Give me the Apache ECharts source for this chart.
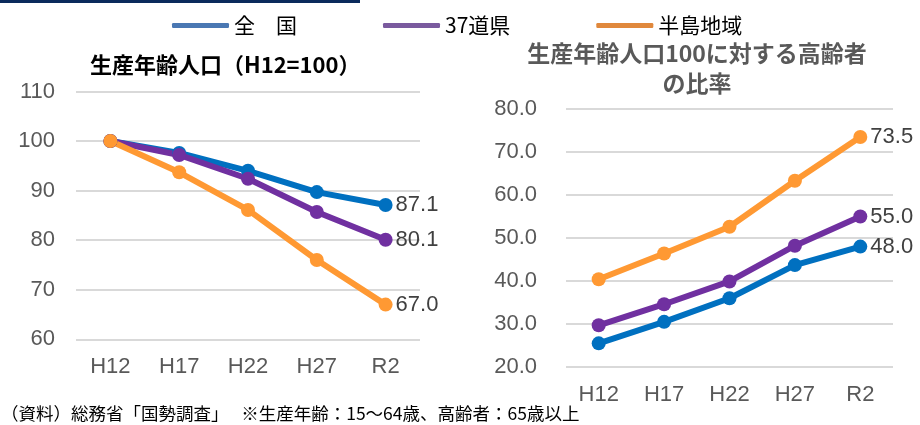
<!DOCTYPE html>
<html><head><meta charset="utf-8">
<script src="https://cdn.jsdelivr.net/npm/echarts@6/dist/echarts.min.js"></script>
<style>html,body{margin:0;padding:0;background:#fff}#c{width:920px;height:425px}</style>
</head><body><div id="c"></div>
<script>
const categories = ['H12', 'H17', 'H22', 'H27', 'R2'];
const seriesNames = ['全　国', '37道県', '半島地域'];
// 生産年齢人口（H12=100）
const workingNational = [100, 97.6, 94.0, 89.7, 87.1];
const working37 = [100, 97.2, 92.4, 85.7, 80.1];
const workingPeninsula = [100, 93.7, 86.1, 76.0, 67.0];
// 生産年齢人口100に対する高齢者の比率
const elderlyNational = [25.5, 30.5, 36.0, 43.7, 48.0];
const elderly37 = [29.7, 34.6, 39.9, 48.2, 55.0];
const elderlyPeninsula = [40.4, 46.4, 52.6, 63.3, 73.5];
const leftTicks = [60, 70, 80, 90, 100, 110];
const rightTicks = [20, 30, 40, 50, 60, 70, 80];
const titleLeft = '生産年齢人口（H12=100）';
const titleRight = ['生産年齢人口100に対する高齢者', 'の比率'];
const footnote = '（資料）総務省「国勢調査」　 ※生産年齢：15～64歳、高齢者：65歳以上';

const lineColors = ['#0070c0', '#7030a0', '#ff9933'];
const legendColors = ['#4a78b3', '#7a5a9e', '#e0883c'];
const numFont = '"Liberation Sans", Arial, sans-serif';
const cjkFont = '"Noto Sans CJK JP", sans-serif';

const chart = echarts.init(document.getElementById('c'));

function mkSeries(name, data, idx, axisIdx) {
  const last = data.length - 1;
  return {
    name: name, type: 'line', data: data,
    xAxisIndex: axisIdx, yAxisIndex: axisIdx,
    symbol: 'circle', symbolSize: 14,
    lineStyle: { width: 6, color: lineColors[idx] },
    itemStyle: { color: lineColors[idx] },
    label: {
      show: true, position: 'right', distance: 3,
      color: '#404040', fontSize: 22, fontFamily: numFont,
      formatter: p => p.dataIndex === last ? p.value.toFixed(1) : ''
    },
    animation: false
  };
}

const axisLabelStyle = { color: '#595959', fontSize: 22, fontFamily: numFont };

chart.setOption({
  animation: false,
  legend: {
    left: 167, top: 10,
    icon: 'roundRect', itemWidth: 57, itemHeight: 5, itemGap: 86,
    textStyle: { color: '#000', fontSize: 21, fontFamily: cjkFont },
    data: seriesNames.map((n, i) => ({ name: n, itemStyle: { color: legendColors[i] } }))
  },
  grid: [
    { left: 76, right: 500, top: 91.5, bottom: 85.7 },
    { left: 566, right: 27, top: 109, bottom: 58 }
  ],
  xAxis: [
    { type: 'category', gridIndex: 0, data: categories, boundaryGap: true,
      axisLine: { show: false }, axisTick: { show: false },
      axisLabel: Object.assign({ margin: 17 }, axisLabelStyle) },
    { type: 'category', gridIndex: 1, data: categories, boundaryGap: true,
      axisLine: { show: false }, axisTick: { show: false },
      axisLabel: Object.assign({ margin: 17 }, axisLabelStyle) }
  ],
  yAxis: [
    { type: 'value', gridIndex: 0, min: leftTicks[0], max: leftTicks[leftTicks.length - 1], interval: 10,
      axisLine: { show: false }, axisTick: { show: false },
      axisLabel: Object.assign({ margin: 21, formatter: v => String(v) }, axisLabelStyle),
      splitLine: { lineStyle: { color: '#d9d9d9', width: 2 } } },
    { type: 'value', gridIndex: 1, min: rightTicks[0], max: rightTicks[rightTicks.length - 1], interval: 10,
      axisLine: { show: false }, axisTick: { show: false },
      axisLabel: Object.assign({ margin: 29, formatter: v => v.toFixed(1) }, axisLabelStyle),
      splitLine: { lineStyle: { color: '#d9d9d9', width: 2 } } }
  ],
  graphic: [
    { type: 'rect', shape: { x: 0, y: 0, width: 360, height: 3 }, style: { fill: '#0b2a5c' } },
    { type: 'text', x: 90, y: 65, style: { text: titleLeft, fill: '#000', font: 'bold 22px ' + cjkFont, textVerticalAlign: 'middle', textAlign: 'left' } },
    { type: 'text', x: 697, y: 53, style: { text: titleRight[0], fill: '#595959', font: 'bold 23px ' + cjkFont, textVerticalAlign: 'middle', textAlign: 'center' } },
    { type: 'text', x: 697, y: 83, style: { text: titleRight[1], fill: '#595959', font: 'bold 23px ' + cjkFont, textVerticalAlign: 'middle', textAlign: 'center' } },
    { type: 'text', x: 1, y: 413, style: { text: footnote, fill: '#000', font: '17.5px ' + cjkFont, textVerticalAlign: 'middle', textAlign: 'left' } }
  ],
  series: [
    mkSeries(seriesNames[0], workingNational, 0, 0),
    mkSeries(seriesNames[1], working37, 1, 0),
    mkSeries(seriesNames[2], workingPeninsula, 2, 0),
    mkSeries(seriesNames[0], elderlyNational, 0, 1),
    mkSeries(seriesNames[1], elderly37, 1, 1),
    mkSeries(seriesNames[2], elderlyPeninsula, 2, 1)
  ]
});
</script></body></html>
